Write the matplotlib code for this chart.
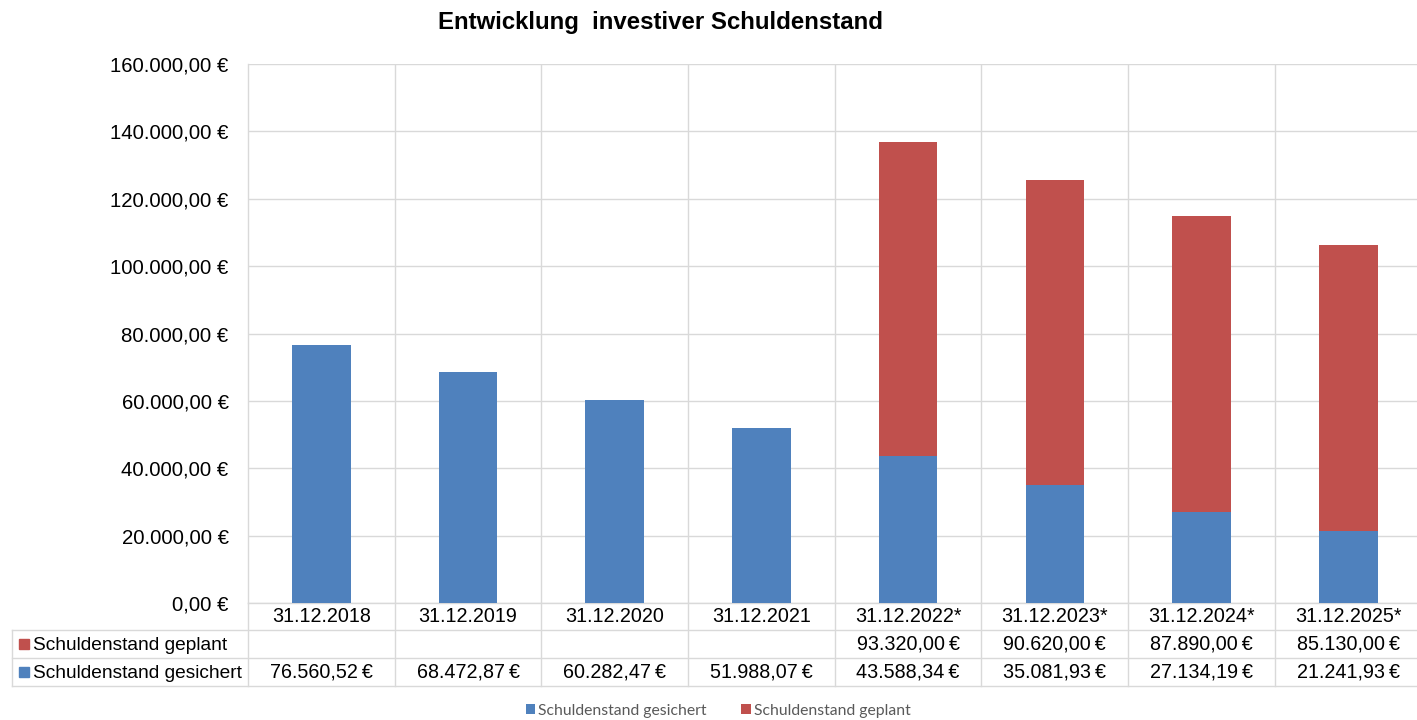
import matplotlib.pyplot as plt
from matplotlib.lines import Line2D
from matplotlib.patches import Rectangle
from matplotlib.ticker import FuncFormatter
import matplotlib.transforms as mtransforms

plt.rcParams['font.family'] = ['Liberation Sans', 'DejaVu Sans']

dates = ["31.12.2018", "31.12.2019", "31.12.2020", "31.12.2021",
         "31.12.2022*", "31.12.2023*", "31.12.2024*", "31.12.2025*"]
gesichert = [76560.52, 68472.87, 60282.47, 51988.07, 43588.34, 35081.93, 27134.19, 21241.93]
geplant = [0, 0, 0, 0, 93320.00, 90620.00, 87890.00, 85130.00]
label_gesichert = "Schuldenstand gesichert"
label_geplant = "Schuldenstand geplant"

blue = "#4F81BD"
red = "#C0504D"
grid = "#D9D9D9"
W, H = 1417, 720


def euro(v, sep="\u2009"):
    s = f"{v:,.2f}".replace(",", "X").replace(".", ",").replace("X", ".")
    return s + sep + "€"


fig = plt.figure(figsize=(W / 100, H / 100), dpi=100)
ax = fig.add_axes([248 / W, 1 - 603 / H, 1173.6 / W, 539 / H])

x = list(range(len(dates)))
b1 = ax.bar(x, gesichert, width=0.4, color=blue, label=label_gesichert, zorder=3)
b2 = ax.bar(x, geplant, width=0.4, bottom=gesichert, color=red, label=label_geplant, zorder=3)

ax.set_xlim(-0.5, len(dates) - 0.5)
ax.set_ylim(0, 160000)
ax.set_yticks(range(0, 160001, 20000))
ax.yaxis.set_major_formatter(FuncFormatter(lambda v, p: euro(v, " ")))
ax.tick_params(axis='y', length=0, pad=14, labelsize=14.7, colors='black')
ax.set_xticks([i - 0.5 for i in range(1, len(dates))], minor=False)
ax.tick_params(axis='x', length=0, labelbottom=False)
ax.grid(True, color=grid, linewidth=1, zorder=0)
for s in ['top', 'right']:
    ax.spines[s].set_visible(False)
for s in ['left', 'bottom']:
    ax.spines[s].set_color(grid)
    ax.spines[s].set_linewidth(1)

fig.text(660 / W, 1 - 22 / H, "Entwicklung  investiver Schuldenstand", fontsize=17.3,
         fontweight='bold', ha='center', va='center')

# data table below the plot
tr = mtransforms.blended_transform_factory(ax.transData, fig.transFigure)
y_date, y_plan, y_ges = 1 - 616 / H, 1 - 644 / H, 1 - 672 / H
fs = 14.2
for i, d in enumerate(dates):
    fig.text(0, y_date, d, transform=tr, ha='center', va='center', fontsize=fs).set_x(i)
    if geplant[i]:
        fig.text(0, y_plan, euro(geplant[i]), transform=tr, ha='center', va='center', fontsize=fs).set_x(i)
    fig.text(0, y_ges, euro(gesichert[i]), transform=tr, ha='center', va='center', fontsize=fs).set_x(i)

x_left = (12 - 248) / 146.7 - 0.5
for yy in [630, 658, 686]:
    fig.add_artist(Line2D([x_left, len(dates) - 0.5], [1 - yy / H] * 2, transform=tr, color=grid, lw=1))
fig.add_artist(Line2D([x_left, x_left], [1 - 630 / H, 1 - 686 / H], transform=tr, color=grid, lw=1))
for b in range(len(dates)):
    fig.add_artist(Line2D([b - 0.5, b - 0.5], [1 - 603 / H, 1 - 686 / H], transform=tr, color=grid, lw=1))

for yy, lab, c in [(644, label_geplant, red), (672, label_gesichert, blue)]:
    fig.add_artist(Rectangle((19 / W, 1 - (yy + 5) / H), 10 / W, 10 / H, transform=fig.transFigure, color=c))
    fig.text(33 / W, 1 - (yy + 1.5) / H, lab, ha='left', va='center', fontsize=13.8)

fig.legend(handles=[b1, b2], loc='center', bbox_to_anchor=(718 / W, 1 - 711 / H), ncol=2, frameon=False,
           prop={'family': 'Lato', 'size': 11.3}, labelcolor='#595959',
           handlelength=0.6, handleheight=0.6, handletextpad=0.2, columnspacing=2.2)

plt.savefig("out.png", dpi=100)
